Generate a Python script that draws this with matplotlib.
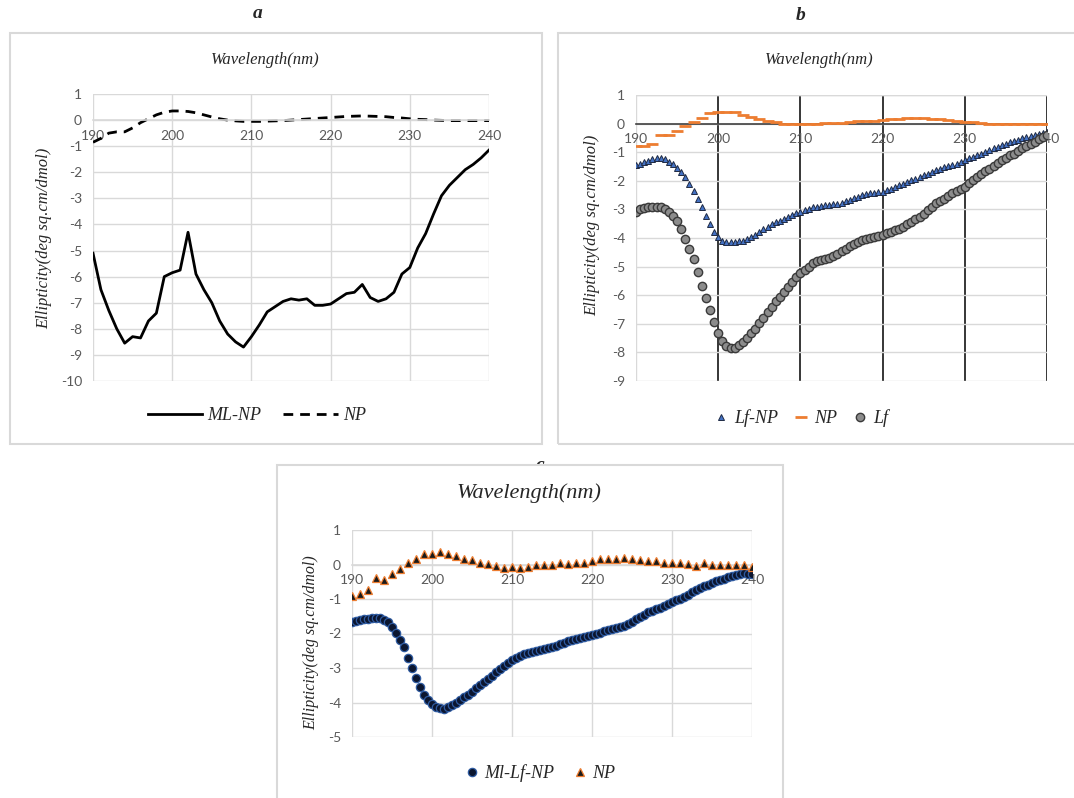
import matplotlib
matplotlib.use("Agg")
import matplotlib.pyplot as plt
from matplotlib.patches import Rectangle

W, H = 1074, 798
plt.rcParams['axes.unicode_minus'] = False

# ---------------- data ----------------
wl_1nm = list(range(190, 241))
wl_half = [190 + 0.5 * i for i in range(101)]

# panel a
a_ml_np = [-5.1, -6.5, -7.3, -8.0, -8.55, -8.3, -8.35, -7.7, -7.4, -6.0,
           -5.85, -5.75, -4.3, -5.9, -6.5, -7.0, -7.7, -8.2, -8.5, -8.7,
           -8.3, -7.85, -7.35, -7.15, -6.95, -6.85, -6.9, -6.85, -7.1, -7.1,
           -7.05, -6.85, -6.65, -6.6, -6.3, -6.8, -6.95, -6.85, -6.6, -5.9,
           -5.65, -4.9, -4.35, -3.6, -2.9, -2.5, -2.2, -1.9, -1.7, -1.45, -1.15]
a_np = [-0.85, -0.7, -0.5, -0.45, -0.45, -0.3, -0.1, 0.05, 0.2, 0.3,
        0.35, 0.35, 0.33, 0.28, 0.2, 0.12, 0.05, 0.0, -0.03, -0.05,
        -0.05, -0.05, -0.04, -0.03, -0.02, 0.0, 0.02, 0.04, 0.06, 0.08,
        0.1, 0.12, 0.14, 0.15, 0.16, 0.15, 0.14, 0.13, 0.1, 0.08,
        0.05, 0.03, 0.02, 0.0, -0.01, -0.02, -0.02, -0.02, -0.02, -0.02, -0.02]

# panel b
b_lf_np = [-1.45, -1.4, -1.35, -1.3, -1.25, -1.2, -1.2, -1.25, -1.33, -1.43,
           -1.55, -1.68, -1.87, -2.1, -2.37, -2.65, -2.93, -3.23, -3.5, -3.78,
           -3.98, -4.1, -4.13, -4.13, -4.13, -4.12, -4.1, -4.05, -3.98, -3.88,
           -3.78, -3.69, -3.6, -3.52, -3.45, -3.39, -3.33, -3.26, -3.2, -3.14,
           -3.08, -3.02, -2.97, -2.93, -2.9, -2.87, -2.85, -2.83, -2.82, -2.8,
           -2.77, -2.72, -2.67, -2.61, -2.56, -2.51, -2.47, -2.44, -2.42, -2.4,
           -2.38, -2.33, -2.27, -2.21, -2.15, -2.1, -2.04, -1.98, -1.92, -1.86,
           -1.8, -1.75, -1.69, -1.63, -1.57, -1.53, -1.49, -1.45, -1.4, -1.34,
           -1.28, -1.22, -1.16, -1.1, -1.05, -0.99, -0.93, -0.87, -0.81, -0.75,
           -0.7, -0.65, -0.6, -0.56, -0.52, -0.48, -0.44, -0.41, -0.37, -0.34, -0.3]
b_lf = [-3.08, -3.0, -2.95, -2.92, -2.9, -2.9, -2.92, -3.0, -3.1, -3.22,
        -3.4, -3.7, -4.05, -4.38, -4.72, -5.2, -5.67, -6.1, -6.5, -6.95,
        -7.33, -7.6, -7.77, -7.85, -7.83, -7.75, -7.63, -7.5, -7.33, -7.17,
        -6.98, -6.78, -6.58, -6.4, -6.22, -6.05, -5.88, -5.7, -5.53, -5.36,
        -5.24, -5.12, -5.0, -4.89, -4.82, -4.77, -4.74, -4.71, -4.63, -4.55,
        -4.46, -4.38, -4.29, -4.2, -4.13, -4.07, -4.03, -3.99, -3.96, -3.93,
        -3.9, -3.84, -3.79, -3.73, -3.67, -3.61, -3.52, -3.43, -3.35, -3.26,
        -3.15, -3.03, -2.91, -2.79, -2.7, -2.62, -2.53, -2.44, -2.35, -2.28,
        -2.21, -2.09, -1.97, -1.87, -1.77, -1.67, -1.57, -1.47, -1.37, -1.28,
        -1.19, -1.11, -1.05, -0.97, -0.87, -0.78, -0.71, -0.64, -0.55, -0.47, -0.4]
b_np = [-0.8, -0.8, -0.7, -0.4, -0.4, -0.25, -0.1, 0.05, 0.2, 0.37,
        0.4, 0.4, 0.4, 0.3, 0.22, 0.15, 0.1, 0.05, 0.0, 0.0,
        -0.03, -0.03, -0.03, 0.02, 0.02, 0.03, 0.05, 0.08, 0.1, 0.1,
        0.12, 0.15, 0.15, 0.18, 0.2, 0.2, 0.15, 0.15, 0.12, 0.1,
        0.05, 0.05, 0.03, 0.0, 0.0, 0.0, 0.0, 0.0, 0.0, 0.0, 0.0]

# panel c
c_ml_lf_np = [-1.66, -1.64, -1.62, -1.59, -1.57, -1.56, -1.55, -1.56, -1.6, -1.68,
              -1.82, -1.98, -2.2, -2.4, -2.7, -3.0, -3.3, -3.55, -3.78, -3.94,
              -4.05, -4.12, -4.16, -4.18, -4.14, -4.08, -4.01, -3.93, -3.84, -3.77,
              -3.69, -3.59, -3.49, -3.4, -3.31, -3.22, -3.12, -3.03, -2.94, -2.85,
              -2.78, -2.72, -2.65, -2.6, -2.57, -2.54, -2.52, -2.49, -2.46, -2.43,
              -2.4, -2.35, -2.31, -2.27, -2.22, -2.18, -2.15, -2.12, -2.09, -2.06,
              -2.03, -2.0, -1.98, -1.94, -1.9, -1.87, -1.84, -1.81, -1.77, -1.73,
              -1.66, -1.58, -1.52, -1.45, -1.39, -1.34, -1.3, -1.26, -1.21, -1.15,
              -1.1, -1.04, -0.99, -0.93, -0.87, -0.81, -0.75, -0.69, -0.63, -0.58,
              -0.53, -0.49, -0.45, -0.41, -0.37, -0.33, -0.3, -0.27, -0.26, -0.27, -0.28]
c_np = [-0.92, -0.86, -0.75, -0.4, -0.45, -0.28, -0.12, 0.03, 0.17, 0.3,
        0.3, 0.37, 0.3, 0.24, 0.17, 0.13, 0.05, 0.01, -0.05, -0.09,
        -0.07, -0.09, -0.07, -0.02, -0.02, -0.02, 0.03, 0.01, 0.05, 0.05,
        0.1, 0.15, 0.15, 0.15, 0.2, 0.15, 0.13, 0.1, 0.1, 0.05,
        0.05, 0.03, 0.01, -0.05, 0.03, -0.02, -0.02, -0.02, -0.02, -0.02, -0.07]

XTICKS = [190, 200, 210, 220, 230, 240]

SERIF = 'Liberation Serif'
TICKFONT = 'Lato'
TXT = '#262626'
GRID = '#d9d9d9'
ORANGE = '#ed7d31'


def px_axes(x0, x1, y0, y1):
    # pixel box (left, right, top, bottom) -> figure fraction
    return [x0 / W, 1 - y1 / H, (x1 - x0) / W, (y1 - y0) / H]


def fig_pt(x, y):
    return (x / W, 1 - y / H)


def style_axes(ax, ymin, zero_color=GRID):
    ax.set_xlim(190, 240)
    ax.set_ylim(ymin, 1)
    ax.set_xticks(XTICKS)
    ax.set_yticks(list(range(ymin, 2)))
    for s in ['top', 'right', 'left']:
        ax.spines[s].set_visible(False)
    # x axis crosses at zero, like the spreadsheet chart
    ax.spines['bottom'].set_position(('data', 0))
    ax.spines['bottom'].set_color(zero_color)
    ax.spines['bottom'].set_linewidth(1.2)
    ax.tick_params(axis='x', length=0, pad=7, labelsize=10, labelcolor='#595959')
    ax.tick_params(axis='y', length=0, pad=8, labelsize=10, labelcolor='#595959')
    for lab in ax.get_xticklabels() + ax.get_yticklabels():
        lab.set_fontfamily(TICKFONT)
    ax.set_axisbelow(True)


fig = plt.figure(figsize=(W / 100, H / 100), dpi=100)

# chart frames
fig.patches.append(Rectangle(fig_pt(10, 444), 532 / W, 411 / H, transform=fig.transFigure,
                             fill=False, edgecolor=GRID, lw=1.5, zorder=1))
fig.patches.append(Rectangle(fig_pt(558, 444), 530 / W, 411 / H, transform=fig.transFigure,
                             fill=False, edgecolor=GRID, lw=1.5, zorder=1))
fig.patches.append(Rectangle(fig_pt(277, 805), 506 / W, 340 / H, transform=fig.transFigure,
                             facecolor='white', edgecolor=GRID, lw=1.5, zorder=1))

# ---------------- panel a ----------------
ax_a = fig.add_axes(px_axes(93, 489, 94, 381))
ax_a.set_zorder(2)
ax_a.grid(True, color=GRID, lw=1)
ax_a.plot(wl_1nm, a_ml_np, color='black', lw=2, label='ML-NP')
ax_a.plot(wl_1nm, a_np, color='black', lw=2, ls=(0, (3.5, 2.5)), label='NP')
style_axes(ax_a, -10)

fig.text(*fig_pt(258, 14), 'a', ha='center', va='center', fontsize=14,
         fontweight='bold', style='italic', family=SERIF, color=TXT)
fig.text(*fig_pt(265, 60), 'Wavelength(nm)', ha='center', va='center', fontsize=12,
         style='italic', family=SERIF, color=TXT)
fig.text(*fig_pt(44, 238), 'Ellipticity(deg sq.cm/dmol)', ha='center', va='center',
         rotation=90, fontsize=12, style='italic', family=SERIF, color=TXT)
ax_a.legend(loc='center', bbox_to_anchor=fig_pt(257, 416), bbox_transform=fig.transFigure,
            ncol=2, frameon=False, handlelength=3.0, columnspacing=1.2, handletextpad=0.3,
            prop={'family': SERIF, 'style': 'italic', 'size': 13}, labelcolor=TXT)

# ---------------- panel b ----------------
ax_b = fig.add_axes(px_axes(636, 1047, 95, 381))
ax_b.set_zorder(2)
ax_b.grid(True, axis='y', color=GRID, lw=1)
ax_b.axvline(XTICKS[0], color=GRID, lw=1, zorder=0)
for xv in XTICKS[1:]:
    ax_b.axvline(xv, color='#262626', lw=1.3, zorder=0)
ax_b.axhline(1, color=GRID, lw=1, zorder=0)
ax_b.plot(wl_1nm, b_np, ls='none', marker='_', markersize=9, mew=2, color=ORANGE,
          label='NP', zorder=3)
ax_b.plot(wl_half, b_lf_np, ls='none', marker='^', markersize=4.8, mew=0.7,
          markerfacecolor='#4472c4', markeredgecolor='#1f2a44', label='Lf-NP', zorder=4)
ax_b.plot(wl_half, b_lf, ls='none', marker='o', markersize=6, mew=1,
          markerfacecolor='#8c8c8c', markeredgecolor='#3a3a3a', label='Lf', zorder=4)
style_axes(ax_b, -9, zero_color='#404040')

fig.text(*fig_pt(801, 16), 'b', ha='center', va='center', fontsize=14,
         fontweight='bold', style='italic', family=SERIF, color=TXT)
fig.text(*fig_pt(819, 60), 'Wavelength(nm)', ha='center', va='center', fontsize=12,
         style='italic', family=SERIF, color=TXT)
fig.text(*fig_pt(592, 225), 'Ellipticity(deg sq.cm/dmol)', ha='center', va='center',
         rotation=90, fontsize=12, style='italic', family=SERIF, color=TXT)
hb = {h.get_label(): h for h in ax_b.get_lines() if not h.get_label().startswith('_')}
ax_b.legend([hb['Lf-NP'], hb['NP'], hb['Lf']], ['Lf-NP', 'NP', 'Lf'], loc='center',
            bbox_to_anchor=fig_pt(801, 418), bbox_transform=fig.transFigure,
            ncol=3, frameon=False, handlelength=0.8, columnspacing=0.9, handletextpad=0.3,
            prop={'family': SERIF, 'style': 'italic', 'size': 13}, labelcolor=TXT)

# ---------------- panel c ----------------
fig.text(*fig_pt(540, 465), 'c', ha='center', va='center', fontsize=14,
         fontweight='bold', style='italic', family=SERIF, color=TXT, zorder=0.5)
ax_c = fig.add_axes(px_axes(352, 752, 530, 737))
ax_c.set_zorder(2)
ax_c.grid(True, color=GRID, lw=1)
ax_c.plot(wl_half, c_ml_lf_np, ls='none', marker='o', markersize=6, mew=0.9,
          markerfacecolor='#0b1630', markeredgecolor='#2e5aa0', label='Ml-Lf-NP', zorder=3)
ax_c.plot(wl_1nm, c_np, ls='none', marker='^', markersize=5.5, mew=0.9,
          markerfacecolor='#1a1a1a', markeredgecolor=ORANGE, label='NP', zorder=4)
style_axes(ax_c, -5)

fig.text(*fig_pt(529, 493), 'Wavelength(nm)', ha='center', va='center', fontsize=16,
         style='italic', family=SERIF, color=TXT, zorder=3)
fig.text(*fig_pt(311, 643), 'Ellipticity(deg sq.cm/dmol)', ha='center', va='center',
         rotation=90, fontsize=11.5, style='italic', family=SERIF, color=TXT, zorder=3)
ax_c.legend(loc='center', bbox_to_anchor=fig_pt(540, 773), bbox_transform=fig.transFigure,
            ncol=2, frameon=False, handlelength=0.8, columnspacing=1.0, handletextpad=0.3,
            prop={'family': SERIF, 'style': 'italic', 'size': 13}, labelcolor=TXT)

fig.savefig('out.png', dpi=100)
